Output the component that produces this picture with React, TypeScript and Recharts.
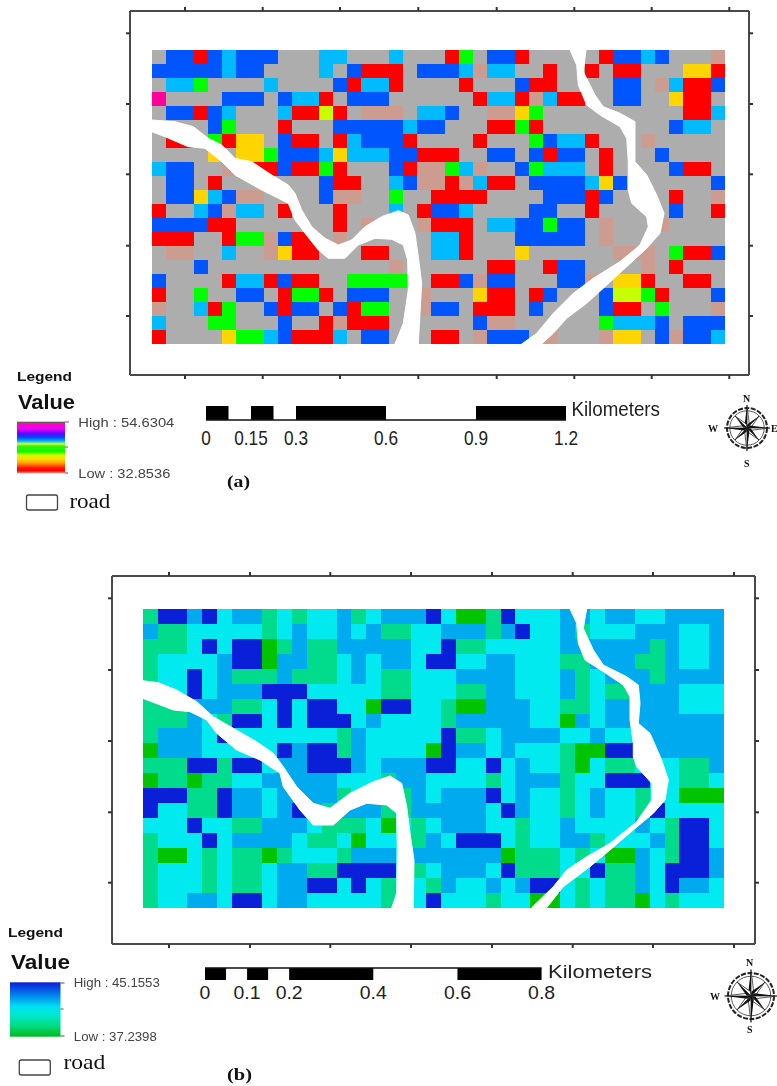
import React from "react";
import { ScatterChart, Scatter, XAxis, YAxis, BarChart, Bar } from "recharts";

const FONT = "'Liberation Sans', Arial, sans-serif";
const SERIF = "'Liberation Serif', serif";

const paletteA: Record<string, string> = { g: "#adadad", b: "#0055ff", c: "#00bbff", r: "#ff0000", y: "#ffd500", n: "#00ff00", l: "#c8ff00", m: "#ff0099", p: "#cc9c90" };
const paletteB: Record<string, string> = { a: "#0a1fd8", m: "#00aaee", t: "#00eaf0", s: "#00dc8c", g: "#00c400" };

const rowsA = [
  "gbbrbcbbbgggccgggcgggrngbbrgggggrbbcbgggp",
  "bbbbbcbbggggcgbrrrgbbbcpccggrggrgrrgggyyr",
  "gccnggggcggggbrccrggggrgggbrrggggbbgpcrrb",
  "mggggbbbgbccrgbbbggggggrccrpcrrggbbggyrrg",
  "gbbrbcgggcrrlrgpppgccbggppyngggggggggggrrc".slice(0, 28) + "gggggggggg" + "rrc",
  "ggggbngggrgggbbbbbcbbgggrrnrgggggggggbccg",
  "grrgnryygbrrgrcbbbrggggrgggnbccrgggpggggg",
  "ggggygyynbbbcycccbbrrrggbbgbrbbgrgggbgggg",
  "cbbggpgrrbrrnrgggbrppncpggbncccgrggggbrrg",
  "gbbgrgggggggbrrggcbpprpcrrgbbbbcybggggggb",
  "gbbycbppggggbppggnggrrrrggggbbbrbggggrggp",
  "rggcbpccgrgggrgggcgrbbcggggbbggrgggggbggr",
  "bbbbrrgggggggrgpgggprrrgccbbnbbgpgggpgggg",
  "rrrggrnnpbrrgpggggggccrgggbbbbbgpgggggggg",
  "gppggcggpyrrgggrrgggccrgggyggggggpppgnrrb",
  "gggbgggggggggggggpggggggrrggrbbggggpgrggg",
  "bggggrccrbrrggnnnnngrrbpbbgggbbpgyyrggrrg",
  "rggnggbbgrnnrgbbbggpgggyrrgrbgggbllnrgggb",
  "pggcrnggbrbbgbrnnggpbbgrrrgbggggbrrgngggp",
  "cgggnngggbggrprrrggggggbppggggggncccbgbbb",
  "rggggynncbrrrcgbbgggrrgpbbbgpgggpyygbpbbc",
];

const rowsB = [
  "saamatmmststtmstmmmatggsatttmmtmmttmmmm",
  "msstttttstmttmtmssttmmmsmattmstttmmmttm",
  "ssstataagsmssmmmmmttassttttt" + "mmmmmm" + "smttm",
  "sttttmaagmmsstmtmmtaattmmtttssmmmssmttm",
  "sttatmsssmssstmtsstttmmmmtttmstmmmsmmmm",
  "sttatmmmaaatttttsstttssmmtttmstssmmmttt",
  "sssmmmsstataattgaattsggmmmttsstmmmmmttt",
  "sssmtsaatataaatmttttsmmmmmttgmtmmmmmmmm",
  "smmmta" + "ttttttt" + "sm" + "ttttt" + "ass" + "t" + "mmmm" + "tt" + "m" + "tt" + "mmmmmm",
  "gmmmtttttamaasmttttgammtmtttsggaammmmmm",
  "sssaasaatmmaaamtmmmaattatmttsgtsstttssm",
  "gssgsstt" + "mmmmm" + "ttts" + "mm" + "tttt" + "st" + "mmm" + "s" + "tt" + "aaa" + "tt" + "ss" + "t",
  "aaassammtmmmmstttsmtmmmatmttstmttsttggg",
  "attssammtmamsmmmssmmmmmtamttstmttsatttt",
  "tttattssmmmtssstgtstmmmttsttmttttmtsaat",
  "stttatmmmmtsstgtttsmtaaatsttmmstttmsaat",
  "sggtstssgstttsmmmt" + "mmmmmm" + "gssstst" + "ggmtsaam",
  "stttstsstmmssaaaatstmmmtasssttassmtaaam",
  "stttstsstmmaatatsttsmttmtmaatstssmtammt",
  "sttmmtaatmm" + "ttttt" + "stta" + "ttts" + "ttgg" + "tst" + "ss" + "gts" + "ttt",
];

const roadA1 = [[151.7, 120], [175, 121.7], [193.3, 126.7], [208.3, 138.3], [221.7, 145], [235, 158.3], [251.7, 161.7], [271.7, 175], [288.3, 185], [295, 193.3], [301.7, 210], [311.7, 226.7], [325, 238.3], [338.3, 245], [351.7, 240], [365, 226.7], [381.7, 216.7], [398.3, 210.7], [408.3, 215], [415, 233.3], [418.3, 256.7], [421.7, 283.3], [420, 313.3], [418.3, 344], [395, 344], [403.3, 323.3], [408.3, 290], [407.7, 260], [403.3, 245], [391.7, 239.3], [375, 238.3], [358.3, 245], [345, 258.3], [328.3, 258.3], [318.3, 250], [305, 233.3], [295, 220], [288.3, 203.3], [261.7, 190], [235, 175], [221.7, 161.7], [205, 148.3], [188.3, 146.7], [165, 136.7], [151.7, 131.7]];
const roadA2 = [[570, 50], [576.7, 65], [578.3, 85], [586.7, 105], [600, 115], [620, 126.7], [626.7, 138.3], [628.3, 161.7], [628.3, 190], [631.7, 203.3], [646.7, 216.7], [648.3, 226.7], [640, 245], [620, 261.7], [593.3, 278.3], [573.3, 293.3], [553.3, 313.3], [536.7, 333.3], [521.7, 344], [541.7, 344], [553.3, 333.3], [566.7, 318.3], [586.7, 303.3], [603.3, 288.3], [626.7, 266.7], [646.7, 248.3], [660, 233.3], [664, 213.3], [656.7, 195], [646.7, 175], [635, 161.7], [635, 121.7], [620, 113.3], [603.3, 106.7], [595, 95], [583.3, 71.7], [586, 50]];
const roadB1 = [[142.7, 680.7], [158.3, 682.7], [176.7, 690], [196.7, 701.7], [213.3, 716.7], [233.3, 728.3], [256.7, 741.7], [273.3, 753.3], [283.3, 766.7], [296.7, 786.7], [313.3, 803.3], [330, 808.3], [350, 793.3], [373.3, 781.7], [390, 776], [401.7, 783.3], [406.7, 806.7], [410, 833.3], [414, 860], [413.3, 907.7], [391.7, 907.7], [396.7, 893.3], [397.3, 850], [396.7, 813.3], [386.7, 805], [366.7, 803.3], [350, 810], [333.3, 825], [313.3, 825], [300, 810], [283.3, 786.7], [280, 773.3], [260, 760], [236.7, 750], [216.7, 733.3], [206.7, 720], [190, 711.7], [173.3, 710], [142.7, 698.3]];
const roadB2 = [[570, 609], [576.7, 623.3], [578.3, 643.3], [585, 660], [603.3, 671.7], [623.3, 685], [630, 696.7], [630, 720], [633.3, 743.3], [633.3, 756.7], [636.7, 766.7], [651.7, 783.3], [651.7, 800], [636.7, 821.7], [610, 843.3], [586.7, 856.7], [566.7, 870], [553.3, 886.7], [531.7, 907.7], [546.7, 907.7], [563.3, 886.7], [590, 866.7], [610, 850], [633.3, 830], [653.3, 813.3], [665, 800], [668.3, 780], [661.7, 760], [650, 733.3], [638.3, 723.3], [640, 703.3], [638.3, 685], [626.7, 676.7], [603.3, 665], [593.3, 650], [583.3, 628.3], [586.7, 609]];

const ticksXA = [185, 262.7, 340, 418.3, 496.7, 574.3, 651.7, 729.3];
const ticksYA = [33.3, 104, 174.3, 245.7, 316];
const ticksXB = [169, 250, 330.3, 411, 492, 572.7, 653, 734];
const ticksYB = [598.3, 670, 741, 812.3, 882.7];

const scaleSegA = [0.075, 0.075, 0.075, 0.075, 0.3, 0.3, 0.3];
const scaleSegB = [0.05, 0.05, 0.05, 0.05, 0.2, 0.2, 0.2];
const scaleTicksA = [0, 0.15, 0.3, 0.6, 0.9, 1.2];
const scaleTicksB = [0, 0.1, 0.2, 0.4, 0.6, 0.8];

const gradA: [number, string][] = [[0, "#555"], [0.03, "#8a5a50"], [0.05, "#ff00cc"], [0.13, "#f000f0"], [0.22, "#6a00ff"], [0.3, "#0044ff"], [0.38, "#00bbff"], [0.43, "#d8ff40"], [0.47, "#40f000"], [0.58, "#00ff00"], [0.64, "#c8ff00"], [0.72, "#ffe000"], [0.8, "#ffa000"], [0.9, "#ff1000"], [0.95, "#ff0000"], [1, "#d8a090"]];
const gradB: [number, string][] = [[0, "#0a1fd8"], [0.25, "#0088ee"], [0.45, "#00e0f0"], [0.6, "#00e8d0"], [0.8, "#00dc80"], [1, "#00b81c"]];

function toCells(rows: string[], x0: number, y0: number, w: number, h: number) {
  return rows.flatMap((row, r) => row.split("").map((k, c) => ({ x: x0 + (c + 0.5) * w, y: y0 + (r + 0.5) * h, k })));
}
const toPts = (a: number[][]) => a.map(([x, y]) => ({ x, y }));
const noTick = () => <g />;

function MapPanel(p: { left: number; top: number; fx: [number, number]; fy: [number, number]; cells: any[]; w: number; h: number; pal: Record<string, string>; roads: number[][][]; tx: number[]; ty: number[] }) {
  const axis = { stroke: "#4a4a4a", strokeWidth: 2 };
  const tl = { stroke: "#333", strokeWidth: 2 };
  const cellShape = (s: any) => {
    const x1 = Math.round(s.cx - p.w / 2);
    const x2 = Math.round(s.cx + p.w / 2);
    const y1 = Math.round(s.cy - p.h / 2);
    const y2 = Math.round(s.cy + p.h / 2);
    return <rect x={x1} y={y1} width={x2 - x1} height={y2 - y1} fill={p.pal[s.payload.k]} shapeRendering="crispEdges" />;
  };
  return (
    <div style={{ position: "absolute", left: p.left, top: p.top, filter: "blur(0.45px)" }}>
      <ScatterChart width={p.fx[1] - p.fx[0] + 16} height={p.fy[1] - p.fy[0] + 16} margin={{ top: 0, right: 0, bottom: 0, left: 0 }}>
        <XAxis xAxisId="b" orientation="bottom" type="number" dataKey="x" domain={p.fx} ticks={p.tx} interval={0} height={8} tickSize={4} tick={noTick} axisLine={axis} tickLine={tl} allowDataOverflow />
        <XAxis xAxisId="t" orientation="top" type="number" dataKey="x" domain={p.fx} ticks={p.tx} interval={0} height={8} tickSize={4} tick={noTick} axisLine={axis} tickLine={tl} allowDataOverflow />
        <YAxis yAxisId="l" orientation="left" type="number" dataKey="y" domain={p.fy} reversed ticks={p.ty} interval={0} width={8} tickSize={4} tick={noTick} axisLine={axis} tickLine={tl} allowDataOverflow />
        <YAxis yAxisId="r" orientation="right" type="number" dataKey="y" domain={p.fy} reversed ticks={p.ty} interval={0} width={8} tickSize={4} tick={noTick} axisLine={axis} tickLine={tl} allowDataOverflow />
        <Scatter data={p.cells} xAxisId="b" yAxisId="l" isAnimationActive={false} shape={cellShape} />
        {p.roads.map((rd, i) => (
          <Scatter key={i} data={toPts(rd)} xAxisId="b" yAxisId="l" isAnimationActive={false} fill="#ffffff" line={{ stroke: "#ffffff", strokeWidth: 1, fill: "#ffffff" }} shape={noTick} />
        ))}
      </ScatterChart>
    </div>
  );
}

function ScaleBar(p: { left: number; top: number; plotW: number; barH: number; max: number; segs: number[]; ticks: number[]; lineTop: boolean; size: number; sx: number; labelDy: number }) {
  const row: Record<string, any> = { name: "scale" };
  p.segs.forEach((v, i) => (row["s" + i] = v));
  const tick = (t: any) => {
    const v = t.payload.value;
    return (
      <text transform={`translate(${t.x},${t.y + p.labelDy}) scale(${p.sx},1)`} textAnchor="middle" dominantBaseline="central" fontFamily={FONT} fontSize={p.size} fill="#222">
        {String(v)}
      </text>
    );
  };
  return (
    <div style={{ position: "absolute", left: p.left - 30, top: p.top }}>
      <BarChart layout="vertical" width={p.plotW + 60} height={p.barH + 42} data={[row]} barCategoryGap={0} margin={{ top: 1, right: 30, bottom: 0, left: 30 }}>
        <XAxis xAxisId="a" type="number" orientation="bottom" domain={[0, p.max]} ticks={p.ticks} interval={0} height={40} tickLine={false} axisLine={p.lineTop ? false : { stroke: "#111", strokeWidth: 1.5 }} tick={tick} />
        {p.lineTop && <XAxis xAxisId="l" type="number" orientation="top" domain={[0, p.max]} height={1} ticks={[]} tickLine={false} axisLine={{ stroke: "#111", strokeWidth: 1.5 }} />}
        <YAxis type="category" dataKey="name" hide />
        {p.segs.map((_, i) => (
          <Bar key={i} xAxisId="a" dataKey={"s" + i} stackId="s" isAnimationActive={false} fill={i % 2 === 0 ? "#000" : "transparent"} />
        ))}
      </BarChart>
    </div>
  );
}

function T(p: { x: number; y: number; w?: number; size: number; bold?: boolean; serif?: boolean; fill?: string; children: string }) {
  return (
    <text x={p.x} y={p.y} textLength={p.w} lengthAdjust={p.w ? "spacingAndGlyphs" : undefined} dominantBaseline="central" fontFamily={p.serif ? SERIF : FONT} fontSize={p.size} fontWeight={p.bold ? 700 : 400} fill={p.fill ?? "#111"}>
      {p.children}
    </text>
  );
}

function Compass({ cx, cy, r }: { cx: number; cy: number; r: number }) {
  const rays = [0, 45, 90, 135, 180, 225, 270, 315];
  return (
    <g>
      <circle cx={cx} cy={cy} r={r} fill="none" stroke="#222" strokeWidth={2} strokeDasharray="5 1.5" />
      <circle cx={cx} cy={cy} r={r * 0.86} fill="none" stroke="#333" strokeWidth={0.8} />
      {rays.map((a) => {
        const len = a % 90 === 0 ? r * 1.15 : r * 0.85;
        return (
          <g key={a} transform={`rotate(${a} ${cx} ${cy})`}>
            <polygon points={`${cx},${cy - len} ${cx - r * 0.12},${cy - r * 0.15} ${cx},${cy}`} fill="#111" />
            <polygon points={`${cx},${cy - len} ${cx + r * 0.12},${cy - r * 0.15} ${cx},${cy}`} fill="#fff" stroke="#111" strokeWidth={0.7} />
          </g>
        );
      })}
    </g>
  );
}

function Grad({ id, stops }: { id: string; stops: [number, string][] }) {
  return (
    <linearGradient id={id} x1="0" y1="0" x2="0" y2="1">
      {stops.map(([o, c], i) => (
        <stop key={i} offset={o} stopColor={c} />
      ))}
    </linearGradient>
  );
}

export default function App() {
  return (
    <div style={{ position: "absolute", left: 0, top: 0, width: 777, height: 1086, background: "#fff", overflow: "hidden" }}>
      <MapPanel left={122} top={3} fx={[130, 749]} fy={[11, 375]} cells={toCells(rowsA, 151.7, 50, 13.98, 14)} w={13.98} h={14} pal={paletteA} roads={[roadA1, roadA2]} tx={ticksXA} ty={ticksYA} />
      <MapPanel left={104} top={568} fx={[112, 755]} fy={[576, 944]} cells={toCells(rowsB, 142.7, 609, 14.91, 14.93)} w={14.91} h={14.93} pal={paletteB} roads={[roadB1, roadB2]} tx={ticksXB} ty={ticksYB} />

      <ScaleBar left={206} top={405} plotW={360} barH={13} max={1.2} segs={scaleSegA} ticks={scaleTicksA} lineTop={false} size={21} sx={0.82} labelDy={10} />
      <ScaleBar left={205} top={966} plotW={336.6} barH={12} max={0.8} segs={scaleSegB} ticks={scaleTicksB} lineTop={true} size={18} sx={1.08} labelDy={5} />

      <svg width={777} height={1086} style={{ position: "absolute", left: 0, top: 0, filter: "blur(0.3px)" }}>
        <defs>
          <Grad id="ga" stops={gradA} />
          <Grad id="gb" stops={gradB} />
        </defs>
        <T x={17} y={376} w={55} size={13} bold>Legend</T>
        <T x={18} y={401.7} w={57} size={21} bold>Value</T>
        <rect x={17} y={421.7} width={48} height={51.6} fill="url(#ga)" />
        <path d="M65 422h4M65 447h3M65 473h3" stroke="#555" />
        <T x={78.3} y={422.7} w={96} size={12.5} fill="#444">High : 54.6304</T>
        <T x={78.3} y={474.3} w={92} size={12.5} fill="#444">Low : 32.8536</T>
        <rect x={26.5} y={495} width={31} height={15} rx={2} fill="#fff" stroke="#444" strokeWidth={1.3} />
        <T x={69.4} y={501} w={41} size={21} serif>road</T>
        <T x={571.4} y={409.3} w={88.6} size={20} fill="#222">Kilometers</T>
        <T x={227} y={481.7} w={23} size={16} bold serif>(a)</T>

        <T x={8} y={933} w={55} size={12.5} bold>Legend</T>
        <T x={11} y={961.7} w={59} size={21} bold>Value</T>
        <rect x={10} y={982.3} width={50.5} height={54.4} fill="url(#gb)" />
        <path d="M60.5 983h4M60.5 1009h3M60.5 1036h4" stroke="#555" />
        <T x={73.8} y={983} w={86} size={12.5} fill="#444">High : 45.1553</T>
        <T x={73.8} y={1037.3} w={83} size={12.5} fill="#444">Low : 37.2398</T>
        <rect x={19.3} y={1060} width={31} height={15} rx={2} fill="#fff" stroke="#444" strokeWidth={1.3} />
        <T x={63.4} y={1062} w={42} size={21} serif>road</T>
        <T x={548} y={971.7} w={104} size={18} fill="#222">Kilometers</T>
        <T x={227} y={1074} w={25} size={16} bold serif>(b)</T>

        <Compass cx={747} cy={428} r={20} />
        <T x={743} y={398} size={10} bold serif>N</T>
        <T x={744} y={463} size={10} bold serif>S</T>
        <T x={708} y={428} size={10} bold serif>W</T>
        <T x={771} y={428} size={10} bold serif>E</T>
        <Compass cx={751} cy={996} r={23} />
        <T x={746} y={962} size={10} bold serif>N</T>
        <T x={747} y={1029} size={10} bold serif>S</T>
        <T x={710} y={996} size={10} bold serif>W</T>
      </svg>
    </div>
  );
}
